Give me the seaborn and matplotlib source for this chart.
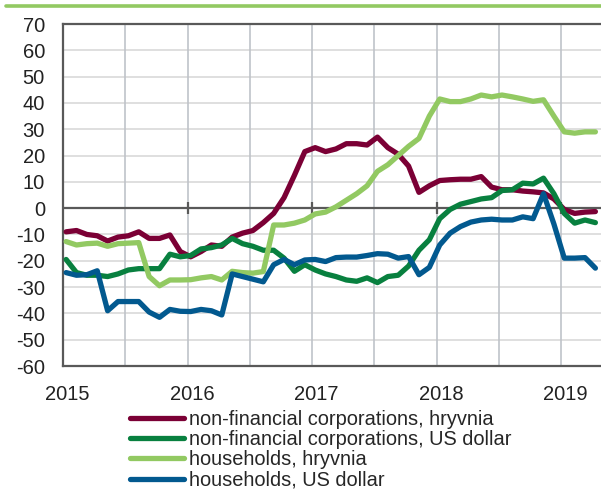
import numpy as np
import pandas as pd
import seaborn as sns
import matplotlib.pyplot as plt
import matplotlib.transforms as mtransforms
from matplotlib.lines import Line2D

# monthly observations, Jan 2015 - Apr 2019 (y/y, %)
corp_uah = [-9, -8.5, -10, -10.5, -12.5, -11, -10.5, -9, -11.5, -11.5,
            -10.2, -16.5, -18.5, -16.5, -14, -14.5, -11, -9.5, -8.5, -5.5,
            -2, 4, 12.5, 21.5, 23, 21.5, 22.5, 24.5, 24.5, 24,
            27, 23, 20.5, 16, 6, 8.5, 10.5, 10.8, 11, 11,
            12, 8, 7, 7, 6.5, 6.2, 5.8, 3.5, -0.5, -2,
            -1.5, -1.3]
corp_usd = [-19.5, -24.5, -25.5, -25.5, -26, -25, -23.5, -23, -23, -23,
            -17.5, -18.5, -18, -15.5, -15, -14, -11.5, -13.5, -14.5, -16,
            -16, -19, -24, -21.5, -23.5, -25, -26, -27.3, -27.8, -26.5,
            -28.3, -26, -25.5, -22, -16, -12, -4, -0.5, 1.5, 2.5,
            3.5, 4, 6.7, 7, 9.5, 9.2, 11.4, 5.5, -2, -5.7,
            -4.5, -5.5]
hh_uah = [-12.7, -14, -13.5, -13.3, -14.5, -13.5, -13.3, -13.1, -26, -29.5,
          -27.3, -27.3, -27.2, -26.5, -26, -27.3, -24, -24.5, -24.7, -24.1,
          -6.4, -6.4, -5.7, -4.5, -2.2, -1.5, 0.5, 3, 5.5, 8.5,
          14, 16.5, 20, 23.5, 26.5, 35, 41.5, 40.5, 40.5, 41.5,
          43, 42.3, 43, 42.3, 41.5, 40.6, 41.2, 35, 29, 28.5,
          29, 29]
hh_usd = [-24.5, -25.5, -25.3, -23.8, -39, -35.5, -35.5, -35.5, -39.5, -41.5,
          -38.5, -39.2, -39.3, -38.5, -39, -40.6, -25, -26, -27, -28,
          -21.5, -19.5, -21.5, -19.7, -19.5, -20.3, -18.8, -18.6, -18.6, -18,
          -17.3, -17.5, -19, -18.4, -25.3, -22.5, -14, -9.5, -7, -5.3,
          -4.5, -4.2, -4.5, -4.5, -3.3, -4, 5.5, -6, -19, -19,
          -18.8, -22.8]

labels = ['non-financial corporations, hryvnia',
          'non-financial corporations, US dollar',
          'households, hryvnia',
          'households, US dollar']
colors = ['#7b0035', '#08803f', '#92c962', '#02598f']
years = [2015, 2016, 2017, 2018, 2019]

dates = 2015 + (np.arange(len(corp_uah)) + 0.3) / 12
df = pd.DataFrame({'date': dates, labels[0]: corp_uah, labels[1]: corp_usd,
                   labels[2]: hh_uah, labels[3]: hh_usd})
long = df.melt(id_vars='date', var_name='series', value_name='value')

sns.set_style('white')
plt.rcParams['font.family'] = ['Liberation Sans', 'DejaVu Sans']
plt.rcParams['axes.unicode_minus'] = False

fig = plt.figure(figsize=(6.01, 4.93), dpi=100)
ax = fig.add_axes([63 / 601, 1 - 366 / 493, 1 - 63 / 601, (366 - 24) / 493])

# grid
for y in range(-60, 71, 10):
    ax.axhline(y, color='#d9d9d9', lw=1.2, zorder=0)
for x in np.arange(2015.5, 2019.4, 0.5):
    ax.axvline(x, color='#bfc3c9', lw=1.2, zorder=0)
ax.axhline(0, color='#595959', lw=1.6, zorder=1)
ax.plot(years[1:], [0] * 4, ls='none', marker='|', ms=9, mew=1.6,
        color='#595959', zorder=1)

sns.lineplot(data=long, x='date', y='value', hue='series', palette=colors,
             lw=3.8, ax=ax, legend=False, zorder=3)
for l in ax.lines[-4:]:
    l.set_solid_capstyle('round')
    l.set_solid_joinstyle('round')

ax.set_xlim(2015, 2019.32)
ax.set_ylim(-60, 70)
ax.set_yticks(range(-60, 71, 10))
ax.set_xticks(years)
ax.set_xticklabels([str(y) for y in years])
ax.set_xlabel('')
ax.set_ylabel('')
ax.tick_params(axis='both', labelsize=14.5, colors='#222222', length=0)
ax.tick_params(axis='y', pad=13)
ax.tick_params(axis='x', pad=14)
offset = mtransforms.ScaledTranslation(4.5 / 100, 0, fig.dpi_scale_trans)
for t in ax.get_xticklabels():
    t.set_transform(t.get_transform() + offset)

for s in ['left', 'top', 'bottom']:
    ax.spines[s].set_color('#595959')
    ax.spines[s].set_linewidth(1.6)
ax.spines['right'].set_visible(False)

# top accent bar
fig.add_artist(Line2D([6 / 601, 1], [1 - 6 / 493] * 2, color='#92c962', lw=2.6))

handles = [Line2D([], [], color=c, lw=3.8, solid_capstyle='round') for c in colors]
fig.legend(handles, labels, loc='upper left', bbox_to_anchor=(130 / 601, 1 - 410 / 493),
           frameon=False, fontsize=14.4, handlelength=2.7, handletextpad=0.25,
           labelspacing=0.06, borderpad=0, borderaxespad=0)

fig.savefig('out.png', dpi=100)
